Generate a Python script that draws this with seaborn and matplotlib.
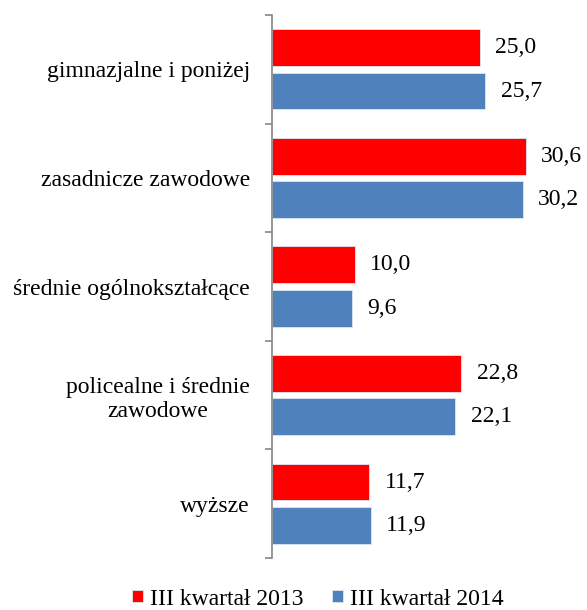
import pandas as pd
import seaborn as sns
import matplotlib.pyplot as plt
from matplotlib.ticker import FixedLocator

categories = ['gimnazjalne i poniżej', 'zasadnicze zawodowe', 'średnie ogólnokształcące',
              'policealne i średnie\nzawodowe', 'wyższe']
series = ['III kwartał 2013', 'III kwartał 2014']
values_2013 = [25.0, 30.6, 10.0, 22.8, 11.7]
values_2014 = [25.7, 30.2, 9.6, 22.1, 11.9]
colors = ['#FF0000', '#4F81BD']

df = pd.DataFrame({
    'kategoria': categories * 2,
    'okres': [series[0]] * len(categories) + [series[1]] * len(categories),
    'wartosc': values_2013 + values_2014,
})

sns.set_style('white')
plt.rcParams['font.family'] = ['Liberation Serif', 'DejaVu Serif']
plt.rcParams['text.color'] = 'black'
plt.rcParams['ytick.color'] = 'black'

fig = plt.figure(figsize=(5.87, 6.10), dpi=100)
ax = fig.add_axes([0.4634, 0.0852, 0.495, 0.8902])

sns.barplot(data=df, x='wartosc', y='kategoria', hue='okres', order=categories,
            hue_order=series, palette=colors, saturation=1, orient='h', width=0.8, gap=0.15,
            edgecolor='#dce6f2', linewidth=0.6, ax=ax)

for cont in ax.containers:
    ax.bar_label(cont, labels=[f'{v:.1f}'.replace('.', ',') for v in cont.datavalues],
                 padding=11, fontsize=17, color='black')

ax.set_xlim(0, 35)
ax.set_ylim(len(categories) - 0.5, -0.5)
ax.set_xlabel('')
ax.set_ylabel('')
ax.set_xticks([])
for s in ['top', 'right', 'bottom']:
    ax.spines[s].set_visible(False)
ax.spines['left'].set_color('#868686')
ax.spines['left'].set_linewidth(1.2)

ax.yaxis.set_minor_locator(FixedLocator([i - 0.5 for i in range(len(categories) + 1)]))
ax.tick_params(axis='y', which='major', left=True, length=0, pad=16, labelsize=17,
               labelcolor='black')
ax.tick_params(axis='y', which='minor', left=True, length=5, width=1.2, color='#868686',
               direction='out')
for lab in ax.get_yticklabels():
    lab.set_multialignment('center')

ax.legend(loc='center', bbox_to_anchor=(0.158, -0.0755), ncol=2, frameon=False,
          fontsize=17, handlelength=0.45, handleheight=0.45, handletextpad=0.3,
          columnspacing=1.2, borderpad=0, borderaxespad=0)

fig.savefig('out.png', dpi=100)
